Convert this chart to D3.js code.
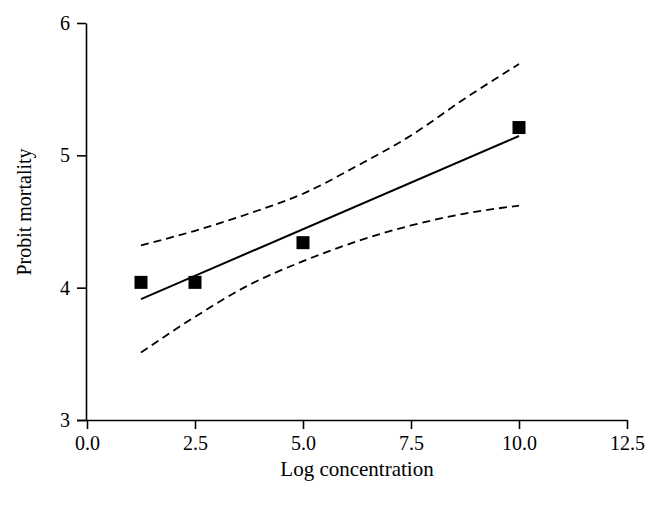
<!DOCTYPE html>
<html>
<head>
<meta charset="utf-8">
<script src="https://cdn.jsdelivr.net/npm/d3@7"></script>
<style>
  body { margin: 0; background: #fff; }
  text { font-family: "Liberation Serif", "DejaVu Serif", serif; fill: #000; }
</style>
</head>
<body>
<div id="chart"></div>
<script>
// observed points
const logConc = [1.25, 2.5, 5.0, 10.0];
const probit = [4.04, 4.04, 4.34, 5.21];

// fitted line ends
const fitX = [1.25, 10.0];
const fitY = [3.914, 5.146];

// confidence band
const bandX = [1.25, 2.5, 3.75, 5.0, 6.25, 7.5, 8.75, 10.0];
const upperY = [4.32, 4.43, 4.56, 4.71, 4.92, 5.15, 5.43, 5.69];
const lowerY = [3.51, 3.78, 4.02, 4.20, 4.35, 4.47, 4.56, 4.62];

const xTicks = [0, 2.5, 5, 7.5, 10, 12.5];
const yTicks = [3, 4, 5, 6];

const W = 658, H = 509;

const svg = d3.select("#chart").append("svg")
  .attr("width", W)
  .attr("height", H);

const x = d3.scaleLinear().domain([0, 12.5]).range([87, 627]);
const y = d3.scaleLinear().domain([3, 6]).range([420, 23]);

// axes
const xAxis = svg.append("g")
  .attr("transform", "translate(0,420)")
  .call(d3.axisBottom(x).tickValues(xTicks).tickFormat(d3.format(".1f"))
    .tickSize(9).tickSizeOuter(0).tickPadding(7));

const yAxis = svg.append("g")
  .attr("transform", "translate(86,0)")
  .call(d3.axisLeft(y).tickValues(yTicks).tickFormat(d3.format("d"))
    .tickSize(9).tickSizeOuter(0).tickPadding(7));

[xAxis, yAxis].forEach(g => {
  g.selectAll("path, line").attr("stroke", "#000").attr("stroke-width", 1.6);
  g.selectAll("text").style("font-size", "20px")
    .style("font-family", '"Liberation Serif", "DejaVu Serif", serif');
});
xAxis.select(".domain").attr("d", "M77,0.5H627");

// axis titles
svg.append("text")
  .attr("x", 357)
  .attr("y", 476)
  .attr("text-anchor", "middle")
  .style("font-size", "21px")
  .text("Log concentration");

svg.append("text")
  .attr("transform", "translate(31,212) rotate(-90)")
  .attr("text-anchor", "middle")
  .style("font-size", "20px")
  .text("Probit mortality");

// band
const band = d3.line()
  .x(d => x(d[0]))
  .y(d => y(d[1]))
  .curve(d3.curveMonotoneX);

[upperY, lowerY].forEach(vals => {
  svg.append("path")
    .datum(bandX.map((v, i) => [v, vals[i]]))
    .attr("fill", "none")
    .attr("stroke", "#000")
    .attr("stroke-width", 1.8)
    .attr("stroke-dasharray", "8,5")
    .attr("d", band);
});

// fitted line
svg.append("path")
  .datum(fitX.map((v, i) => [v, fitY[i]]))
  .attr("fill", "none")
  .attr("stroke", "#000")
  .attr("stroke-width", 2)
  .attr("d", band);

// points
const sz = 13;
svg.append("g")
  .selectAll("rect")
  .data(logConc.map((v, i) => [v, probit[i]]))
  .enter()
  .append("rect")
  .attr("x", d => x(d[0]) - sz / 2)
  .attr("y", d => y(d[1]) - sz / 2)
  .attr("width", sz)
  .attr("height", sz)
  .attr("fill", "#000");
</script>
</body>
</html>
